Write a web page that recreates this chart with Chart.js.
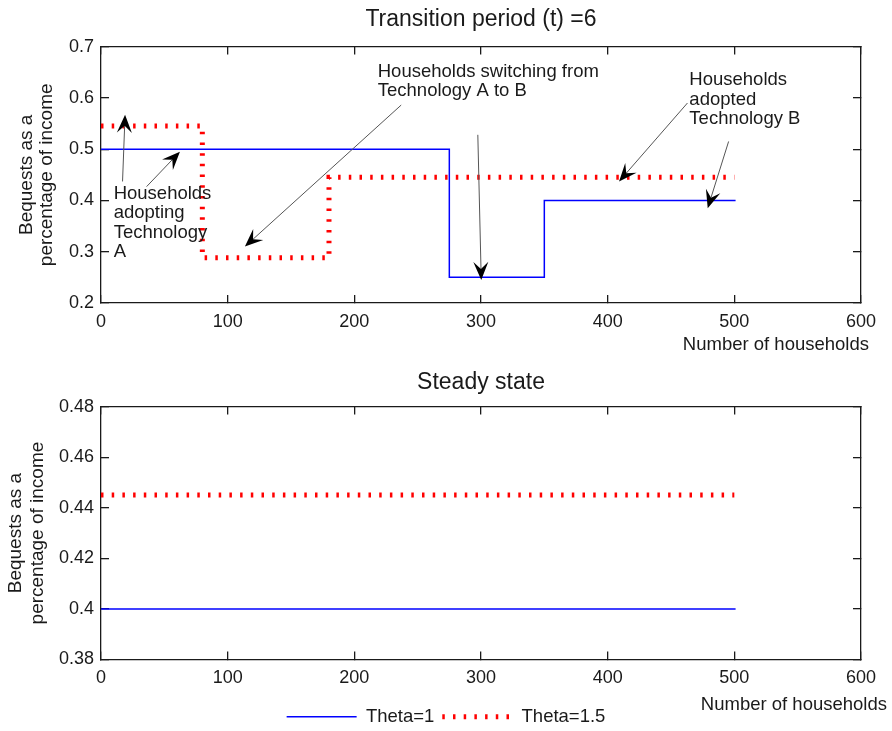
<!DOCTYPE html>
<html>
<head>
<meta charset="utf-8">
<script src="https://cdn.jsdelivr.net/npm/chart.js@4.4.1/dist/chart.umd.min.js"></script>
<style>
html,body{margin:0;padding:0;background:#fff;}
#wrap{position:relative;width:892px;height:731px;}
canvas{position:absolute;left:0;}
#top{top:0;}
#bottom{top:360px;}
</style>
</head>
<body>
<div id="wrap">
  <canvas id="top" width="892" height="360"></canvas>
  <canvas id="bottom" width="892" height="371"></canvas>
</div>
<script>
// tick values
const householdTicks=[0,100,200,300,400,500,600];
const transitionTicks=[0.2,0.3,0.4,0.5,0.6,0.7];
const steadyTicks=[0.38,0.4,0.42,0.44,0.46,0.48];

// transition period (t)=6, corner points of the step lines
const transitionHouseholds1=[0,275,275,350,350,501];
const transitionBequests1=[0.5,0.5,0.25,0.25,0.4,0.4];
const transitionHouseholds15=[0,80,80,180,180,500];
const transitionBequests15=[0.545,0.545,0.288,0.288,0.445,0.445];

// steady state
const steadyHouseholds1=[0,501];
const steadyBequests1=[0.4,0.4];
const steadyHouseholds15=[0,500];
const steadyBequests15=[0.445,0.445];

const FONT="'Liberation Sans', Arial, Helvetica, sans-serif";
const INK='#1a1a1a';

const pts=(xs,ys)=>xs.map((x,i)=>({x:x,y:ys[i]}));
const fixTicks=vals=>s=>{ s.ticks=vals.map(v=>({value:v})); };
const fmt=v=>String(+Number(v).toFixed(2));

const blueStyle={label:'Theta=1',borderColor:'#0000ff',backgroundColor:'#0000ff',borderWidth:1.5,pointRadius:0,tension:0,fill:false};
const redStyle={label:'Theta=1.5',borderColor:'#ff0000',backgroundColor:'#ff0000',borderWidth:5,borderDash:[2.5,8.2],borderCapStyle:'butt',pointRadius:0,tension:0,fill:false};

function makeScales(yTicks,yTitle,xHeight){
  const edge={color:INK,width:1.3};
  const grid={drawOnChartArea:false,tickLength:-8,color:INK,lineWidth:1.3};
  return {
    x:{type:'linear',position:'bottom',min:0,max:600,afterBuildTicks:fixTicks(householdTicks),
       grid:grid,border:edge,
       ticks:{padding:16,color:INK,font:{family:FONT,size:18},maxRotation:0,autoSkip:false,callback:fmt},
       afterFit:s=>{s.height=xHeight;}},
    x2:{type:'linear',position:'top',min:0,max:600,afterBuildTicks:fixTicks(householdTicks),
       grid:grid,border:edge,ticks:{display:false},afterFit:s=>{s.height=0;}},
    y:{type:'linear',position:'left',min:yTicks[0],max:yTicks[yTicks.length-1],afterBuildTicks:fixTicks(yTicks),
       grid:grid,border:edge,
       ticks:{padding:15,color:INK,font:{family:FONT,size:18},autoSkip:false,callback:fmt},
       title:{display:true,text:['Bequests as a','percentage of income'],color:INK,
              font:{family:FONT,size:19,lineHeight:yTitle.lh},padding:{top:yTitle.pad,bottom:0}},
       afterFit:s=>{s.width=101;}},
    y2:{type:'linear',position:'right',min:yTicks[0],max:yTicks[yTicks.length-1],afterBuildTicks:fixTicks(yTicks),
       grid:grid,border:edge,ticks:{display:false},afterFit:s=>{s.width=30;}}
  };
}

function drawArrow(ctx,x0,y0,x1,y1){
  const ang=Math.atan2(y1-y0,x1-x0),L=18,W=7.5,N=11;
  ctx.strokeStyle='#555';
  ctx.lineWidth=1;
  ctx.beginPath();
  ctx.moveTo(x0,y0);
  ctx.lineTo(x1-Math.cos(ang)*N,y1-Math.sin(ang)*N);
  ctx.stroke();
  ctx.save();
  ctx.translate(x1,y1);
  ctx.rotate(ang);
  ctx.beginPath();
  ctx.moveTo(0,0);
  ctx.lineTo(-L,-W);
  ctx.lineTo(-N,0);
  ctx.lineTo(-L,W);
  ctx.closePath();
  ctx.fillStyle='#000';
  ctx.fill();
  ctx.restore();
}

const annotate={
  id:'annotate',
  afterDraw(chart,args,opts){
    const ctx=chart.ctx,x=chart.scales.x,y=chart.scales.y;
    ctx.save();
    ctx.fillStyle=INK;
    ctx.font='18.5px '+FONT;
    ctx.textBaseline='middle';
    ctx.textAlign='left';
    (opts.notes||[]).forEach(n=>{
      n.lines.forEach((t,i)=>ctx.fillText(t,x.getPixelForValue(n.x),y.getPixelForValue(n.y)+i*19.5));
    });
    (opts.arrows||[]).forEach(a=>{
      drawArrow(ctx,x.getPixelForValue(a[0]),y.getPixelForValue(a[1]),x.getPixelForValue(a[2]),y.getPixelForValue(a[3]));
    });
    ctx.fillStyle=INK;
    ctx.textAlign='right';
    ctx.fillText('Number of households',chart.chartArea.right+opts.xTitleShift,opts.xTitleY);
    ctx.restore();
  }
};

// legend entries keep the dataset dash pattern
function legendLabels(chart){
  const items=Chart.defaults.plugins.legend.labels.generateLabels(chart);
  return items.map(it=>{
    const ds=chart.data.datasets[it.datasetIndex];
    it.lineDash=ds.borderDash||[];
    it.lineWidth=ds.borderWidth;
    it.lineCap='butt';
    it.pointStyle='line';
    return it;
  });
}

new Chart(document.getElementById('top'),{
  type:'line',
  data:{datasets:[
    Object.assign({data:pts(transitionHouseholds1,transitionBequests1)},blueStyle),
    Object.assign({data:pts(transitionHouseholds15,transitionBequests15)},redStyle)
  ]},
  options:{
    responsive:false,animation:false,events:[],devicePixelRatio:1,
    layout:{padding:0},
    scales:makeScales(transitionTicks,{lh:1.05,pad:17},57),
    plugins:{
      legend:{display:false},
      tooltip:{enabled:false},
      title:{display:true,fullSize:false,text:'Transition period (t) =6',color:INK,
             font:{family:FONT,size:23,weight:'normal',lineHeight:1.2},padding:{top:6,bottom:13}},
      annotate:{
        xTitleShift:8,xTitleY:345,
        notes:[
          {lines:['Households','adopting','Technology','A'],x:10,y:0.413},
          {lines:['Households switching from','Technology A to B'],x:218.5,y:0.651},
          {lines:['Households','adopted','Technology B'],x:464.5,y:0.635}
        ],
        arrows:[
          [17,0.437,19,0.567],
          [36,0.427,62.3,0.495],
          [237,0.586,113.6,0.31],
          [297.5,0.528,300.2,0.245],
          [463,0.59,409,0.437],
          [495.5,0.515,479,0.385]
        ]
      }
    }
  },
  plugins:[annotate]
});

new Chart(document.getElementById('bottom'),{
  type:'line',
  data:{datasets:[
    Object.assign({data:pts(steadyHouseholds1,steadyBequests1)},blueStyle),
    Object.assign({data:pts(steadyHouseholds15,steadyBequests15)},redStyle)
  ]},
  options:{
    responsive:false,animation:false,events:[],devicePixelRatio:1,
    layout:{padding:{left:0,right:0,top:0,bottom:-5}},
    scales:makeScales(steadyTicks,{lh:1.16,pad:5},40),
    plugins:{
      legend:{display:true,position:'bottom',
        labels:{usePointStyle:true,pointStyle:'line',pointStyleWidth:70,boxHeight:18,padding:8,
                color:INK,font:{family:FONT,size:18.5},generateLabels:legendLabels}},
      tooltip:{enabled:false},
      title:{display:true,fullSize:false,text:'Steady state',color:INK,
             font:{family:FONT,size:23,weight:'normal',lineHeight:1.2},padding:{top:9,bottom:10}},
      annotate:{xTitleShift:26,xTitleY:345}
    }
  },
  plugins:[annotate]
});
</script>
</body>
</html>
